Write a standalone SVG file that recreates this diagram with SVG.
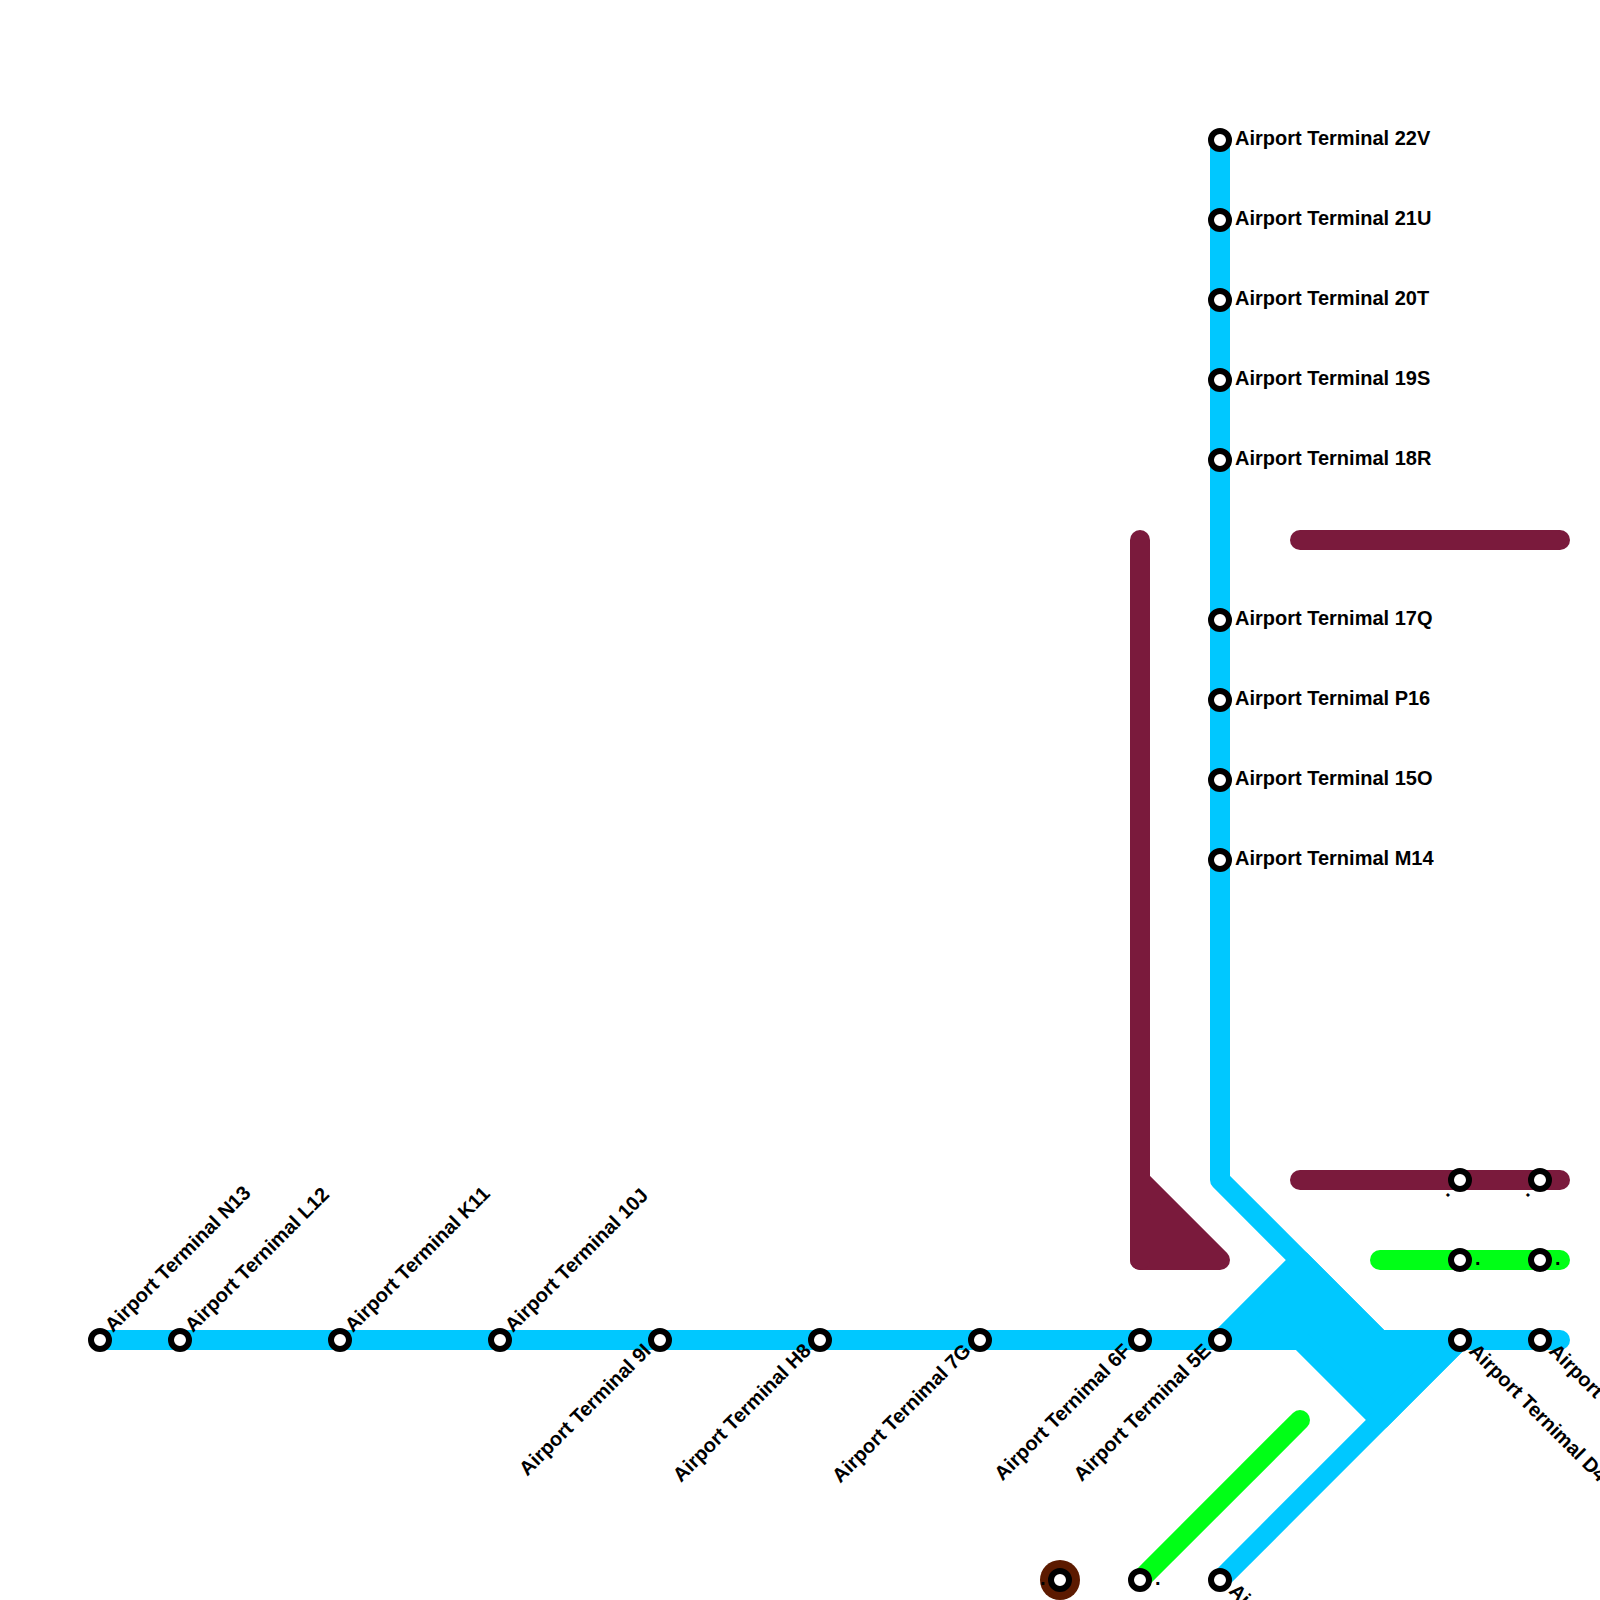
<svg xmlns="http://www.w3.org/2000/svg" width="1600" height="1600" viewBox="0 0 1600 1600">
<style>
.l{fill:none;stroke-width:20;stroke-linecap:round;stroke-linejoin:round}
.b{stroke:#00c8ff}.m{stroke:#7a1a3c}.g{stroke:#00ff16}
.s{fill:#fff;stroke:#000;stroke-width:6}
text{font-family:"Liberation Sans",Arial,sans-serif;font-weight:700;font-size:20px;fill:#000}
.e{text-anchor:end}
</style>
<rect width="1600" height="1600" fill="#fff"/>
<g id="connectors">
<path class="l m" style="fill:#7a1a3c" d="M1140 1180V1260H1220Z"/>
<path class="l m" d="M1140 540V1260"/>
<path class="l m" d="M1300 540H1560"/>
<path class="l m" d="M1300 1180H1560"/>
<path class="l g" d="M1380 1260H1560"/>
<path class="l g" d="M1140 1580L1300 1420"/>
<path class="l b" d="M100 1340H1560"/>
<path class="l b" d="M1220 140V1180L1380 1340"/>
<path class="l b" style="fill:#00c8ff" d="M1220 1340L1300 1260L1380 1340H1460L1380 1420L1300 1340Z"/>
<path class="l b" d="M1460 1340L1220 1580"/>
</g>
<g id="n100"><circle class="s" cx="100" cy="1340" r="9"/><text transform="translate(113 1333) rotate(-45)">Airport Terminal N13</text></g>
<g id="n180"><circle class="s" cx="180" cy="1340" r="9"/><text transform="translate(193 1333) rotate(-45)">Airport Ternimal L12</text></g>
<g id="n340"><circle class="s" cx="340" cy="1340" r="9"/><text transform="translate(353 1333) rotate(-45)">Airport Terminal K11</text></g>
<g id="n500"><circle class="s" cx="500" cy="1340" r="9"/><text transform="translate(513 1333) rotate(-45)">Airport Terminal 10J</text></g>
<g id="n660"><circle class="s" cx="660" cy="1340" r="9"/><text class="e" transform="translate(652 1352) rotate(-45)">Airport Terminal 9I</text></g>
<g id="n820"><circle class="s" cx="820" cy="1340" r="9"/><text class="e" transform="translate(812 1352) rotate(-45)">Airport Terminal H8</text></g>
<g id="n980"><circle class="s" cx="980" cy="1340" r="9"/><text class="e" transform="translate(972 1352) rotate(-45)">Airport Ternimal 7G</text></g>
<g id="n1140"><circle class="s" cx="1140" cy="1340" r="9"/><text class="e" transform="translate(1132 1352) rotate(-45)">Airport Ternimal 6F</text></g>
<g id="n1220"><circle class="s" cx="1220" cy="1340" r="9"/><text class="e" transform="translate(1212 1352) rotate(-45)">Airport Terminal 5E</text></g>
<g id="n1460"><circle class="s" cx="1460" cy="1340" r="9"/><text transform="translate(1468 1352) rotate(45)">Airport Ternimal D4</text></g>
<g id="n1540"><circle class="s" cx="1540" cy="1340" r="9"/><text transform="translate(1548 1352) rotate(45)">Airport</text></g>
<g id="n1220b"><circle class="s" cx="1220" cy="1580" r="9"/><text transform="translate(1228 1592) rotate(45)">Ai</text></g>
<g id="v140"><circle class="s" cx="1220" cy="140" r="9"/><text x="1235" y="145">Airport Terminal 22V</text></g>
<g id="v220"><circle class="s" cx="1220" cy="220" r="9"/><text x="1235" y="225">Airport Terminal 21U</text></g>
<g id="v300"><circle class="s" cx="1220" cy="300" r="9"/><text x="1235" y="305">Airport Terminal 20T</text></g>
<g id="v380"><circle class="s" cx="1220" cy="380" r="9"/><text x="1235" y="385">Airport Terminal 19S</text></g>
<g id="v460"><circle class="s" cx="1220" cy="460" r="9"/><text x="1235" y="465">Airport Ternimal 18R</text></g>
<g id="v620"><circle class="s" cx="1220" cy="620" r="9"/><text x="1235" y="625">Airport Ternimal 17Q</text></g>
<g id="v700"><circle class="s" cx="1220" cy="700" r="9"/><text x="1235" y="705">Airport Ternimal P16</text></g>
<g id="v780"><circle class="s" cx="1220" cy="780" r="9"/><text x="1235" y="785">Airport Terminal 15O</text></g>
<g id="v860"><circle class="s" cx="1220" cy="860" r="9"/><text x="1235" y="865">Airport Ternimal M14</text></g>
<g id="m1460"><circle class="s" cx="1460" cy="1180" r="9"/><text class="e" transform="translate(1451 1194) rotate(-45)">.</text></g>
<g id="m1540"><circle class="s" cx="1540" cy="1180" r="9"/><text class="e" transform="translate(1531 1194) rotate(-45)">.</text></g>
<g id="g1460"><circle class="s" cx="1460" cy="1260" r="9"/><text x="1475" y="1265">.</text></g>
<g id="g1540"><circle class="s" cx="1540" cy="1260" r="9"/><text x="1555" y="1265">.</text></g>
<g id="g1140"><circle class="s" cx="1140" cy="1580" r="9"/><text x="1155" y="1585">.</text></g>
<g id="b1060"><circle cx="1060" cy="1580" r="20" fill="#5c1a00"/><circle class="s" cx="1060" cy="1580" r="9"/><text x="1040" y="1585">.</text></g>
</svg>
